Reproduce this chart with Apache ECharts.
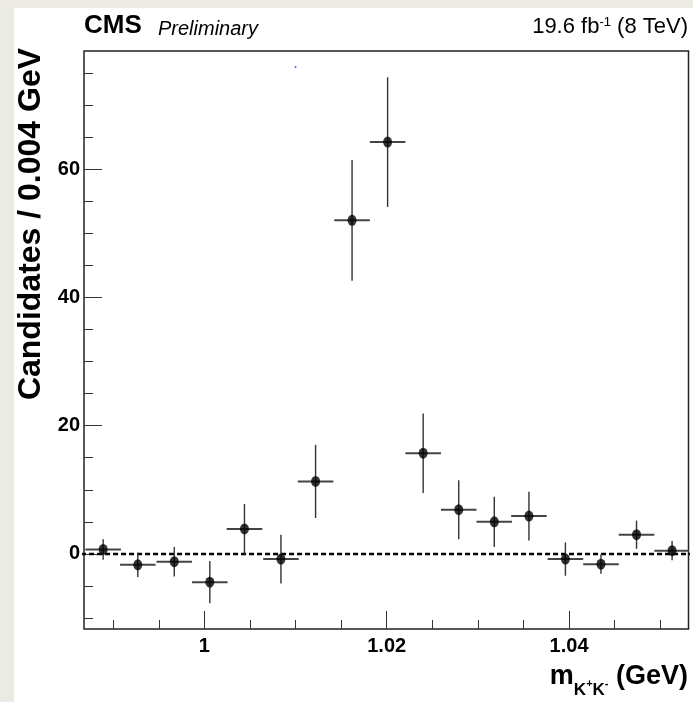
<!DOCTYPE html>
<html>
<head>
<meta charset="utf-8">
<script src="https://cdn.jsdelivr.net/npm/echarts@6/dist/echarts.min.js"></script>
<style>
  html, body { margin: 0; padding: 0; background: #ecebe3; }
  #chart { width: 693px; height: 702px; }
</style>
</head>
<body>
<div id="chart"></div>
<script>
// bin centres (GeV), fitted yields and their errors
const massBins = [0.9889, 0.9927, 0.9967, 1.0006, 1.0044, 1.0084, 1.0122, 1.0162, 1.0201,
                  1.0240, 1.0279, 1.0318, 1.0356, 1.0396, 1.0435, 1.0474, 1.0513];
const candidates = [0.7, -1.7, -1.2, -4.4, 3.9, -0.8, 11.3, 52.0, 64.2,
                    15.7, 6.9, 5.0, 5.9, -0.8, -1.6, 3.0, 0.5];
const candErrors = [1.6, 1.9, 2.3, 3.3, 3.9, 3.8, 5.7, 9.4, 10.1,
                    6.2, 4.6, 3.9, 3.8, 2.6, 1.5, 2.2, 1.5];
const binHalfWidth = 0.00195;

// flat background fit (dashed)
const fitX = [0.9856, 1.0536];
const fitY = [0, 0];

// stray marker in the original
const strayPoint = [1.0100, 75.9];

// axes
const xRange = [0.9868, 1.0531];
const yRange = [-11.7, 78.4];
const xMajorTicks = [1, 1.02, 1.04];
const xMinorTicks = [0.99, 0.995, 1.005, 1.01, 1.015, 1.025, 1.03, 1.035, 1.045, 1.05];
const yMajorTicks = [0, 20, 40, 60];
const yMinorTicks = [-10, -5, 5, 10, 15, 25, 30, 35, 45, 50, 55, 65, 70, 75];

const font = '"Liberation Sans", Arial, sans-serif';

const chart = echarts.init(document.getElementById('chart'));

const points = massBins.map((x, i) => [x, candidates[i], candErrors[i]]);

const tickStyle = { color: '#333', width: 1 };
const noLine = { show: false, onZero: false };

const option = {
  animation: false,
  backgroundColor: '#ecebe3',
  grid: {
    left: 84, right: 4.5, top: 51, bottom: 73,
    show: true,
    backgroundColor: '#fff',
    borderColor: '#222',
    borderWidth: 1.5
  },
  graphic: [
    { type: 'rect', z: -1, silent: true,
      shape: { x: 14, y: 8, width: 679, height: 694 }, style: { fill: '#fff' } },
    { type: 'text', x: 84, y: 39, silent: true,
      style: { text: 'CMS', font: 'bold 26px ' + font, fill: '#000', verticalAlign: 'bottom' } },
    { type: 'text', x: 158, y: 39, silent: true,
      style: { text: 'Preliminary', font: 'italic 20px ' + font, fill: '#000', verticalAlign: 'bottom' } },
    { type: 'text', x: 688, y: 38, silent: true,
      style: {
        text: '{a|19.6 fb}{s|-1}{a| (8 TeV)}',
        align: 'right', verticalAlign: 'bottom',
        rich: {
          a: { fontFamily: font, fontSize: 22, fill: '#000', verticalAlign: 'top' },
          s: { fontFamily: font, fontSize: 13, fill: '#000', verticalAlign: 'top' }
        }
      } },
    { type: 'text', x: 31, y: 224, rotation: Math.PI / 2, silent: true,
      style: { text: 'Candidates / 0.004 GeV', font: 'bold 32px ' + font, fill: '#000',
               align: 'center', verticalAlign: 'middle' } },
    { type: 'text', x: 688, y: 699, silent: true,
      style: {
        text: '{m|m}{k|K}{p|+}{k|K}{p|-}{m| (GeV)}',
        align: 'right', verticalAlign: 'bottom',
        rich: {
          m: { fontFamily: font, fontWeight: 'bold', fontSize: 27, fill: '#000', padding: [0, 0, 9, 0], verticalAlign: 'bottom' },
          k: { fontFamily: font, fontWeight: 'bold', fontSize: 17, fill: '#000', verticalAlign: 'bottom' },
          p: { fontFamily: font, fontWeight: 'bold', fontSize: 11, fill: '#000', padding: [0, 0, 10, 0], verticalAlign: 'bottom' }
        }
      } }
  ],
  xAxis: [
    {
      type: 'value', min: xRange[0], max: xRange[1], position: 'bottom',
      splitLine: { show: false }, axisLine: noLine,
      axisTick: { inside: true, length: 18, lineStyle: tickStyle, customValues: xMajorTicks },
      axisLabel: { customValues: xMajorTicks, margin: 7, color: '#000',
                   fontFamily: font, fontWeight: 'bold', fontSize: 20 }
    },
    {
      type: 'value', min: xRange[0], max: xRange[1], position: 'bottom',
      splitLine: { show: false }, axisLine: noLine,
      axisTick: { inside: true, length: 9, lineStyle: tickStyle, customValues: xMinorTicks },
      axisLabel: { show: false }
    }
  ],
  yAxis: [
    {
      type: 'value', min: yRange[0], max: yRange[1], position: 'left',
      splitLine: { show: false }, axisLine: noLine,
      axisTick: { inside: true, length: 18, lineStyle: tickStyle, customValues: yMajorTicks },
      axisLabel: { customValues: yMajorTicks, margin: 4, color: '#000',
                   fontFamily: font, fontWeight: 'bold', fontSize: 20 }
    },
    {
      type: 'value', min: yRange[0], max: yRange[1], position: 'left',
      splitLine: { show: false }, axisLine: noLine,
      axisTick: { inside: true, length: 9, lineStyle: tickStyle, customValues: yMinorTicks },
      axisLabel: { show: false }
    }
  ],
  series: [
    {
      // background fit
      type: 'line',
      data: fitX.map((x, i) => [x, fitY[i]]),
      symbol: 'none',
      clip: false,
      lineStyle: { color: '#000', width: 2.5, type: [5, 3] },
      z: 2
    },
    {
      // bin width + error bars
      type: 'custom',
      clip: true,
      data: points,
      renderItem: function (params, api) {
        const x = api.value(0), y = api.value(1), e = api.value(2);
        const l = api.coord([x - binHalfWidth, y]);
        const r = api.coord([x + binHalfWidth, y]);
        const t = api.coord([x, y + e]);
        const b = api.coord([x, y - e]);
        return {
          type: 'group',
          children: [
            { type: 'line', shape: { x1: l[0], y1: l[1], x2: r[0], y2: r[1] },
              style: { stroke: '#444', lineWidth: 2 } },
            { type: 'line', shape: { x1: t[0], y1: t[1], x2: b[0], y2: b[1] },
              style: { stroke: '#333', lineWidth: 1.4 } }
          ]
        };
      },
      z: 3
    },
    {
      type: 'scatter',
      data: points.map(p => [p[0], p[1]]),
      symbol: 'circle',
      symbolSize: [9, 11],
      itemStyle: { color: '#000' },
      z: 4
    },
    {
      type: 'scatter',
      data: [strayPoint],
      symbol: 'circle',
      symbolSize: 2,
      itemStyle: { color: '#3030ff' },
      z: 4
    }
  ]
};

chart.setOption(option);
</script>
</body>
</html>
